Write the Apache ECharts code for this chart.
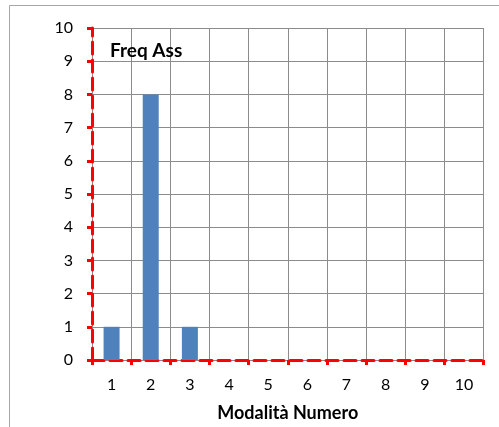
<!DOCTYPE html>
<html><head><meta charset="utf-8">
<script src="https://cdn.jsdelivr.net/npm/echarts@6/dist/echarts.min.js"></script>
<style>html,body{margin:0;padding:0;background:#fff}#c{width:499px;height:427px}</style>
</head><body><div id="c"></div>
<script>
const categories = ['1','2','3','4','5','6','7','8','9','10'];
const freqAss = [1, 8, 1, 0, 0, 0, 0, 0, 0, 0];
const seriesName = 'Freq Ass';
const xAxisName = 'Modalità Numero';

const chart = echarts.init(document.getElementById('c'));
const font = 'Lato, "Open Sans", sans-serif';
const red = '#ff0000';
chart.setOption({
  animation: false,
  textStyle: { fontFamily: font },
  graphic: [{
    type: 'rect', shape: { x: 9.5, y: 5.5, width: 520, height: 500 },
    style: { fill: 'none', stroke: '#a6a6a6', lineWidth: 1 }, silent: true
  }],
  title: {
    text: seriesName, left: 105, top: 36,
    textStyle: { fontFamily: font, fontWeight: 'bold', fontSize: 19, color: '#000' }
  },
  grid: { left: 92, right: 15.5, top: 28, bottom: 62, containLabel: false },
  xAxis: {
    type: 'category', data: categories, boundaryGap: true,
    name: xAxisName, nameLocation: 'middle', nameGap: 44,
    nameTextStyle: { fontFamily: font, fontWeight: 'bold', fontSize: 18, color: '#000' },
    axisLine: { show: true, lineStyle: { color: red, width: 3, type: [12, 6] } },
    axisTick: { show: true, alignWithLabel: false, length: 5, lineStyle: { color: red, width: 3 } },
    axisLabel: { fontFamily: font, fontSize: 16, color: '#000', margin: 17 },
    splitLine: { show: true, interval: 0, lineStyle: { color: '#8c8c8c', width: 1 } }
  },
  yAxis: {
    type: 'value', min: 0, max: 10, interval: 1,
    axisLine: { show: true, lineStyle: { color: red, width: 3, type: [12, 6] } },
    axisTick: { show: true, length: 5, lineStyle: { color: red, width: 3 } },
    axisLabel: { fontFamily: font, fontSize: 16, color: '#000', margin: 19 },
    splitLine: { show: true, lineStyle: { color: '#8c8c8c', width: 1 } }
  },
  series: [{
    name: seriesName, type: 'bar', data: freqAss, barWidth: 16,
    itemStyle: { color: '#4f81bd' }, z: 1
  }]
});
</script></body></html>
